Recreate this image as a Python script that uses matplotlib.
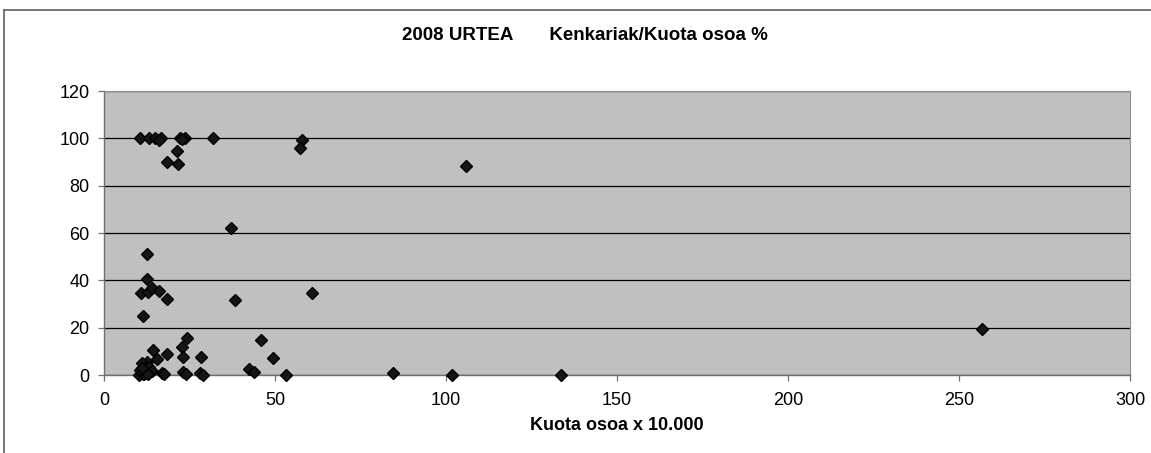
import matplotlib
matplotlib.use("Agg")
import matplotlib.pyplot as plt
from matplotlib.lines import Line2D

plt.rcParams['font.family'] = ['Liberation Sans', 'DejaVu Sans']

# Kuota osoa x 10.000  vs  Kenkariak/Kuota osoa %
kuota = [10.5, 13.2, 14.9, 16.7, 22.2, 23.7, 31.9, 57.9, 16.0, 22.8,
         21.3, 18.5, 21.5, 57.3, 105.8,
         37.0, 12.7, 12.5, 10.7, 13.0, 13.9, 16.2, 18.5, 38.3, 60.9, 11.3,
         24.4, 22.7, 14.4, 18.5, 23.0, 28.3, 15.6, 12.5, 11.0, 256.8,
         10.2, 10.8, 11.4, 12.0, 12.6, 13.3, 14.0, 11.8, 12.9, 10.4, 11.1,
         16.9, 17.6, 23.2, 24.0, 28.1, 28.9, 42.5, 43.9, 45.9, 49.3, 53.2,
         84.6, 101.7, 133.5]
kenkariak = [100, 100, 100, 100, 100, 100, 100, 99.5, 99.5, 99.8,
             94.8, 90.1, 89.0, 96.0, 88.3,
             62.2, 51.1, 40.4, 34.5, 35.2, 36.9, 35.5, 32.0, 31.7, 34.8, 24.9,
             15.8, 11.7, 10.6, 8.9, 7.5, 7.7, 6.6, 5.6, 4.9, 19.5,
             0.2, 1.5, 0.5, 2.8, 0.8, 3.5, 1.8, 0.3, 0.6, 2.2, 3.0,
             0.7, 0.4, 1.4, 0.3, 0.7, 0.2, 2.5, 1.1, 14.8, 7.0, 0.0,
             0.7, 0.0, 0.0]

fig = plt.figure(figsize=(11.51, 4.53), dpi=100)
ax = fig.add_axes([104/1151, 78/453, 1026/1151, 284/453])
ax.set_facecolor('#c0c0c0')

ax.plot(kuota, kenkariak, linestyle='none', marker='D', markersize=6.2,
        color='#151515', markeredgecolor='#000000', clip_on=False, zorder=3)

ax.set_xlim(0, 300)
ax.set_ylim(0, 120)
ax.set_xticks(range(0, 301, 50))
ax.set_yticks(range(0, 121, 20))
ax.yaxis.grid(True, color='black', linewidth=0.9)
ax.set_axisbelow(True)
for s in ['top', 'right']:
    ax.spines[s].set_color('#909090')
    ax.spines[s].set_linewidth(0.8)
for s in ['left', 'bottom']:
    ax.spines[s].set_color('#707070')
    ax.spines[s].set_linewidth(1.0)
ax.tick_params(direction='out', length=4, width=0.9, colors='#707070',
               labelcolor='black', labelsize=13)
ax.tick_params(axis='x', pad=8.4)
ax.tick_params(axis='y', pad=6.5)

ax.set_xlabel('Kuota osoa x 10.000', fontsize=13, fontweight='bold', labelpad=5.5)
fig.text(585/1151, 1 - 36/453, '2008 URTEA       Kenkariak/Kuota osoa %',
         ha='center', va='center', fontsize=13.5, fontweight='bold')

# chart area frame (top and left edges visible)
fig.add_artist(Line2D([4/1151, 1], [1 - 10/453, 1 - 10/453], color='#606060', linewidth=1.2))
fig.add_artist(Line2D([4/1151, 4/1151], [0, 1 - 10/453], color='#606060', linewidth=1.2))

fig.savefig('out.png', dpi=100)
